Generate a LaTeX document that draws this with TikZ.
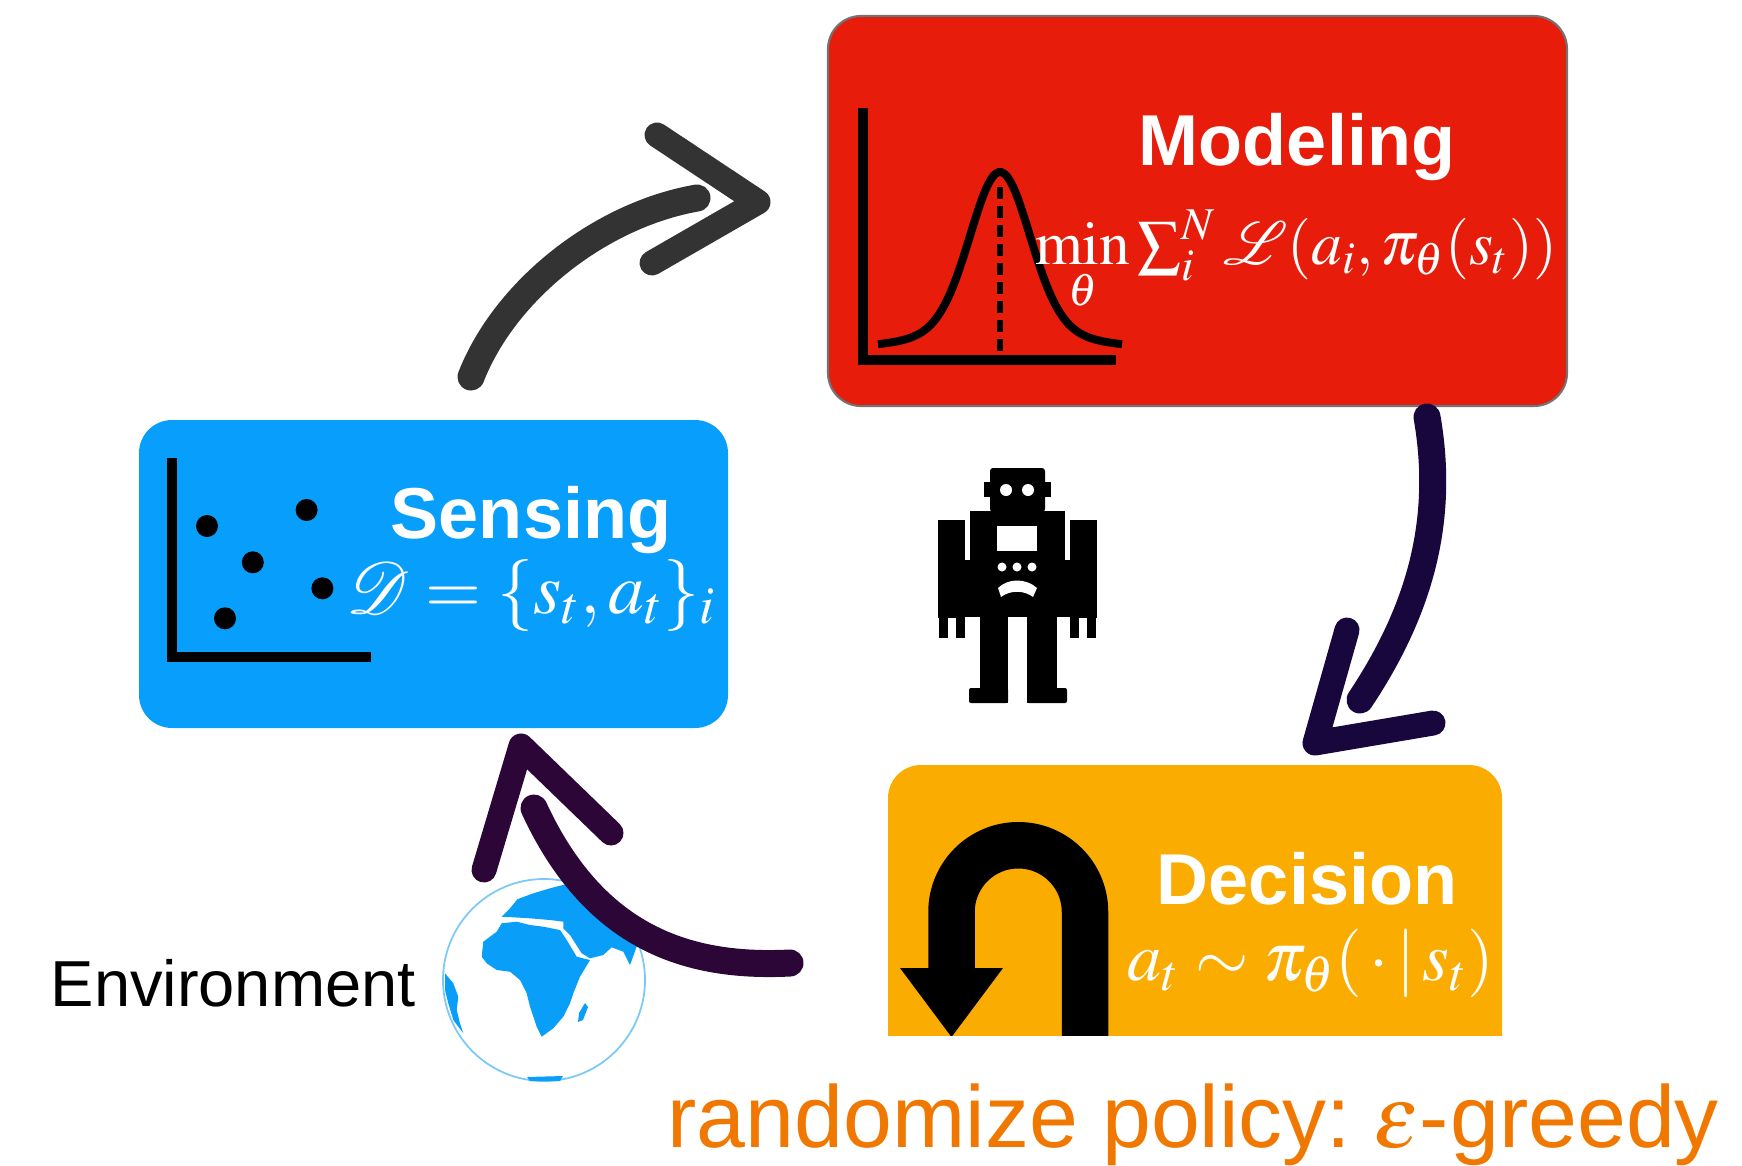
\documentclass[tikz,border=0pt]{standalone}
\usepackage{mathptmx}
\usepackage{mathrsfs}
\usepackage{fontspec}
\newfontfamily\helv{Liberation Sans}

\definecolor{modelred}{HTML}{E71C0B}
\definecolor{senseblue}{HTML}{079FFB}
\definecolor{decideorange}{HTML}{FBAC00}
\definecolor{policyorange}{HTML}{F07800}
\definecolor{globeblue}{HTML}{099FF9}
\definecolor{globeline}{HTML}{7CC8F8}
\definecolor{inkgray}{HTML}{333333}
\definecolor{inknavy}{HTML}{17073D}
\definecolor{inkplum}{HTML}{2D0638}

\begin{document}
\begin{tikzpicture}[
  x=0.1mm, y=-0.1mm,
  box/.style={rounded corners=3.3mm, inner sep=0pt},
  title/.style={text=white, inner sep=0pt, font=\helv\bfseries\fontsize{20.5}{24}\selectfont},
  formula/.style={text=white, inner sep=0pt, font=\fontsize{#1}{#1}\selectfont},
  axis/.style={line width=1mm, line join=miter},
  % brush strokes of the cycle: a shaft and a separate chevron head
  brush/.style={line width=2.7mm, line cap=round, line join=round},
  chevron/.style={line width=2.5mm, line cap=round, line join=round}]

  \useasboundingbox (0,0) rectangle (1742,1165);

  % boxes
  \node[box, fill=modelred, draw=black!55, line width=0.6pt,
        minimum width=73.9mm, minimum height=39mm] (model) at (1197.5,211) {};
  \node[box, fill=senseblue, minimum width=58.9mm, minimum height=30.8mm] (sense) at (433.5,574) {};
  \begin{scope}
    \clip (0,0) rectangle (1742,1035);
    \node[box, fill=decideorange, minimum width=61.4mm, minimum height=34mm] (decide) at (1195,935) {};
  \end{scope}

  % density plot
  \draw[axis] (863,108) |- (1116,360);
  \draw[line width=0.8mm] plot[domain=-122:122, samples=90, smooth]
    ({1000+\x},{352-180*(0.7*exp(-(\x/30)^2/2)+0.3/(1+(\x/50)^2))});
  \draw[line width=0.6mm, dash pattern=on 1.2mm off 0.7mm] (1000,187) -- (1000,355);

  % scatter plot
  \draw[axis] (171.5,458) |- (371,656.5);
  \foreach \x/\y in {207/526, 306.6/510, 252.8/562.3, 322.4/588.3, 225/618.3}
    \fill (\x,\y) circle (11);

  % u-turn
  \begin{scope}
    \clip (0,0) rectangle (1742,1035);
    \draw[line width=4.65mm] (1085,1040) -- (1085,912)
      arc[start angle=0, end angle=-180, radius=66.75] -- (951.5,968);
    \fill (900,968) -- (1003,968) -- (951.5,1037) -- cycle;
  \end{scope}

  % titles and formulas
  \node[title, anchor=base] (modeltitle) at (1297,165) {Modeling};
  \node[formula=17.5, anchor=base] (modelform) at (1296,264)
    {$\min\limits_{\theta} \sum_{i}^{N} \mathscr{L}(a_i, \pi_\theta(s_t))$};
  \node[title, anchor=base] (sensetitle) at (531,538) {Sensing};
  \node[formula=20.5, anchor=base] (senseform) at (531,613) {$\mathscr{D} = \{s_t, a_t\}_i$};
  \node[title, anchor=base] (decidetitle) at (1307,904) {Decision};
  \node[formula=19.5, anchor=base] (decideform) at (1311,980) {$a_t \sim \pi_\theta(\,\cdot\,|\,s_t)$};

  % robot
  \fill[rounded corners=0.3mm] (990,468) rectangle (1045,512);
  \fill (984,482) rectangle (1051,497);
  \fill (970,511) rectangle (1065,617);
  \fill (938,520) rectangle (965,618);
  \fill (1070,520) rectangle (1097,618);
  \fill (965,560) rectangle (970,617);
  \fill (1065,560) rectangle (1070,617);
  \fill (939,616) rectangle (948,638);
  \fill (956,616) rectangle (965,638);
  \fill (1070,616) rectangle (1079,638);
  \fill (1087,616) rectangle (1096,638);
  \fill (980,615) rectangle (1008,703);
  \fill (1027,615) rectangle (1057,703);
  \fill[rounded corners=0.2mm] (969,688) rectangle (1008,703);
  \fill[rounded corners=0.2mm] (1027,688) rectangle (1067,703);
  \fill[white] (1006,490) circle (6) (1028,490) circle (6);
  \fill[white] (997,526) rectangle (1037,551);
  \foreach \x in {1002,1017,1032}
    \fill[white] (\x,567) circle (4.5);
  \fill[white] (998,588) .. controls (1008,578) and (1026,578) .. (1037,588)
    -- (1033,597) .. controls (1024,590) and (1010,590) .. (1001,597) -- cycle;

  % environment
  \node[circle, draw=globeline, line width=0.5pt, minimum size=20.2mm, inner sep=0pt] (globe) at (544,980) {};
  \fill[globeblue] (481.7,956.7) -- (483.3,941.7) -- (496.7,931.7) -- (501.7,923.3)
    -- (516.7,921.7) -- (530,925) -- (543.3,926.7) -- (560,930) -- (566.7,940)
    -- (576.7,956.7) -- (590,960) -- (580,976.7) -- (573.3,993.3) -- (570,1003.3)
    -- (563.3,1016.7) -- (553.3,1028.3) -- (541.7,1036.7) -- (536.7,1026.7)
    -- (530,1006.7) -- (526.7,993.3) -- (520,980) -- (510,971.7) -- (496.7,970)
    -- (486.7,963.3) -- cycle;
  \fill[globeblue] (501.7,916.7) -- (510,908.3) -- (517.3,899.3) -- (533.3,893.3)
    -- (550,888.3) -- (566.7,884) -- (586.7,886.7) -- (606.7,895) -- (623.3,910)
    -- (633.3,930) -- (636.7,946.7) -- (630,965) -- (623.3,951.7) -- (611.7,947.3)
    -- (603.3,955) -- (590,958.3) -- (581.7,953.3) -- (570,935) -- (563.3,928.3)
    -- (563.3,921.7) -- (550,920) -- (530,918.3) -- (513.3,917.3) -- cycle;
  \fill[globeblue] (445,973.3) -- (453.3,983.3) -- (458.3,996.7) -- (456.7,1010)
    -- (460,1023.3) -- (463.3,1033.3) -- (453.3,1020) -- (448.3,1003.3) -- (445,990) -- cycle;
  \fill[globeblue] (585,1003) -- (588,1007) -- (583,1020) -- (578,1022) -- (579,1013) -- cycle;
  \fill[globeblue] (527,1077) -- (563,1076) -- (560,1081) -- (530,1081) -- cycle;
  \node[anchor=base west, inner sep=0pt, font=\helv\fontsize{18.5}{22}\selectfont] (env) at (50,1006) {Environment};

  % arrow ends
  \coordinate (s1) at (471,377);
  \coordinate (e1) at (697,198);
  \coordinate (s2) at (1427,417);
  \coordinate (e2) at (1360,700);
  \coordinate (s3) at (790,963);
  \coordinate (e3) at (534,808);

  % arrows
  \draw[brush, inkgray] (s1) .. controls (505,290) and (600,215) .. (e1);
  \draw[chevron, inkgray] (657,135) -- (758,202) -- (652,263);
  \draw[brush, inknavy] (s2) .. controls (1445,520) and (1420,610) .. (e2);
  \draw[chevron, inknavy] (1347,630) -- (1315,743) -- (1433,723);
  \draw[brush, inkplum] (s3) .. controls (690,968) and (595,940) .. (e3);
  \draw[chevron, inkplum] (484,870) -- (521,746) -- (611,833);

  % policy note
  \node[anchor=base west, inner sep=0pt, text=policyorange, font=\helv\fontsize{25}{30}\selectfont]
    (policy) at (667,1147) {randomize policy:\hspace{-0.12em} $\varepsilon$-\hspace{0.02em}greedy};
\end{tikzpicture}
\end{document}
